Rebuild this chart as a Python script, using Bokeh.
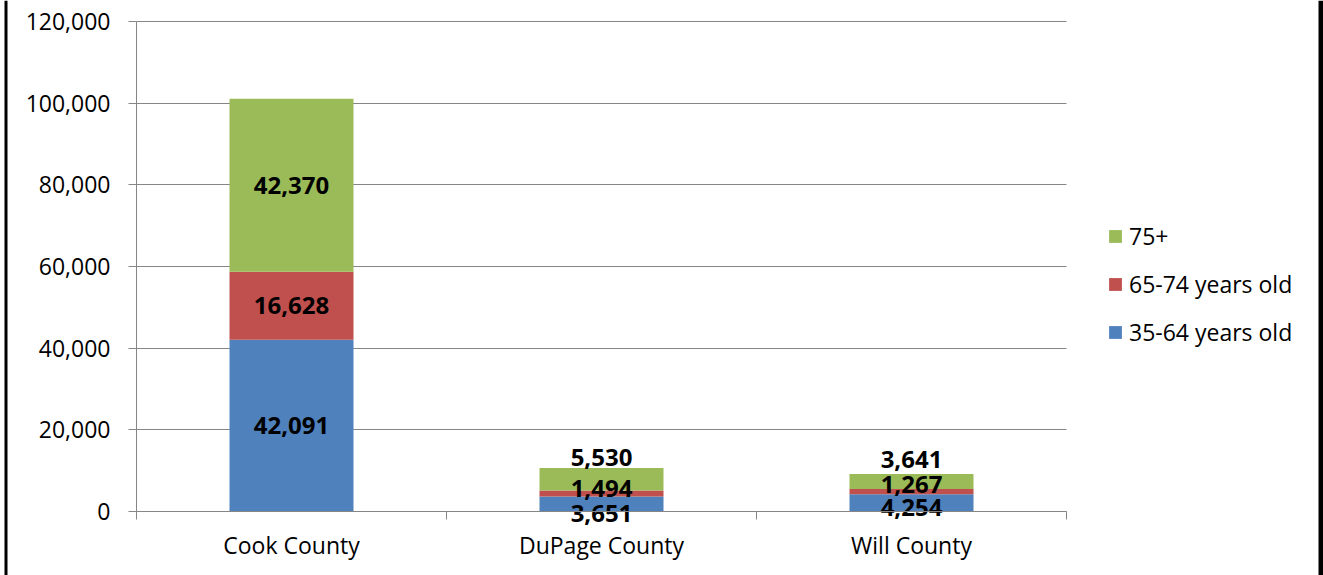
import numpy as np
from bokeh.plotting import figure
from bokeh.models import (ColumnDataSource, FixedTicker, NumeralTickFormatter,
                          Legend, LegendItem, Range1d, BoxAnnotation)
from bokeh.core.properties import value
from bokeh.embed import file_html
from bokeh.resources import INLINE

categories = ["Cook County", "DuPage County", "Will County"]
age_35_64 = [42091, 3651, 4254]
age_65_74 = [16628, 1494, 1267]
age_75_plus = [42370, 5530, 3641]
series_names = ["35-64 years old", "65-74 years old", "75+"]
colors = ["#4F81BD", "#C0504D", "#9BBB59"]
y_ticks = [0, 20000, 40000, 60000, 80000, 100000, 120000]

# label nudges (screen px) used to avoid overlapping labels on short bars
label_nudge = [[0, 9, 4.5], [0, -5, -7.5], [0, -22, -22.5]]

FONT = "Open Sans"
W, H = 1323, 575
# plot area placement in pixels
PX_LEFT, PX_RIGHT, PX_TOP, PX_BOTTOM = 136, 1066, 21, 511
n = len(categories)
YMAX = y_ticks[-1]
xu = n / (PX_RIGHT - PX_LEFT)          # data units per px (x)
yu = YMAX / (PX_BOTTOM - PX_TOP)       # data units per px (y)
x_range = Range1d(-PX_LEFT * xu, (W - PX_LEFT) * xu)
y_range = Range1d(-(H - PX_BOTTOM) * yu, YMAX + PX_TOP * yu)

x = np.arange(n) + 0.5
src = ColumnDataSource({"x": x, "s0": age_35_64, "s1": age_65_74, "s2": age_75_plus})

p = figure(width=W, height=H, output_backend="svg", toolbar_location=None,
           x_range=x_range, y_range=y_range, min_border=0,
           min_border_left=0, min_border_right=0, min_border_top=0, min_border_bottom=0)
p.outline_line_color = None

rs = p.vbar_stack(["s0", "s1", "s2"], x="x", width=0.4, color=colors,
                  source=src, line_color=None)

vals = np.array([age_35_64, age_65_74, age_75_plus], dtype=float)
cum = np.cumsum(vals, axis=0)
mids = cum - vals / 2
lx, ly, lt, loff = [], [], [], []
for i in range(vals.shape[0]):
    for j in range(vals.shape[1]):
        lx.append(x[j]); ly.append(mids[i, j]); lt.append(f"{int(vals[i, j]):,}")
        loff.append(label_nudge[i][j])
lsrc = ColumnDataSource({"x": lx, "y": ly, "t": lt, "off": loff})
p.text(x="x", y="y", text="t", y_offset="off", source=lsrc,
       text_align="center", text_baseline="middle",
       text_font=value(FONT), text_font_style="bold", text_font_size="24px",
       text_color="black")

ax = p.xaxis[0]
ax.fixed_location = 0
ax.bounds = (0, n)
ax.ticker = FixedTicker(ticks=list(x), minor_ticks=list(np.arange(n + 1)))
ax.major_label_overrides = {float(xx): c for xx, c in zip(x, categories)}
ax.major_tick_line_color = None
ax.minor_tick_line_color = "#868686"
ax.minor_tick_out = 8
ax.minor_tick_in = 0
ax.axis_line_color = "#868686"
ax.major_label_text_font = FONT
ax.major_label_text_font_size = "23px"
ax.major_label_text_color = "black"
ax.major_label_standoff = 9

ay = p.yaxis[0]
ay.fixed_location = 0
ay.bounds = (0, YMAX)
ay.ticker = FixedTicker(ticks=y_ticks, minor_ticks=[])
ay.formatter = NumeralTickFormatter(format="0,0")
ay.major_tick_line_color = "#868686"
ay.major_tick_out = 8
ay.major_tick_in = 0
ay.axis_line_color = "#868686"
ay.major_label_text_font = FONT
ay.major_label_text_font_size = "23px"
ay.major_label_text_color = "black"
ay.major_label_standoff = 18

p.xgrid.grid_line_color = None
p.ygrid.grid_line_color = "#868686"
p.ygrid.ticker = FixedTicker(ticks=y_ticks)
p.ygrid.cross_bounds = (0, n)

items = [LegendItem(label=series_names[i], renderers=[rs[i]]) for i in [2, 1, 0]]
legend = Legend(items=items, location=(1107, H - 348), orientation="vertical")
legend.border_line_color = None
legend.background_fill_alpha = 0
legend.label_text_font = FONT
legend.label_text_font_size = "23px"
legend.label_text_color = "black"
legend.glyph_width = 16
legend.glyph_height = 16
legend.label_height = 26
legend.spacing = 16
legend.label_standoff = 6
legend.margin = 0
legend.padding = 10
p.add_layout(legend, "center")

# outer frame edges
for l, r in [(4, 7), (W - 5, W)]:
    p.add_layout(BoxAnnotation(left=l, right=r, top=0, bottom=H,
                               left_units="canvas", right_units="canvas",
                               top_units="canvas", bottom_units="canvas",
                               fill_color="black", fill_alpha=1, line_color=None))

open("out.html", "w").write(file_html(p, INLINE))
